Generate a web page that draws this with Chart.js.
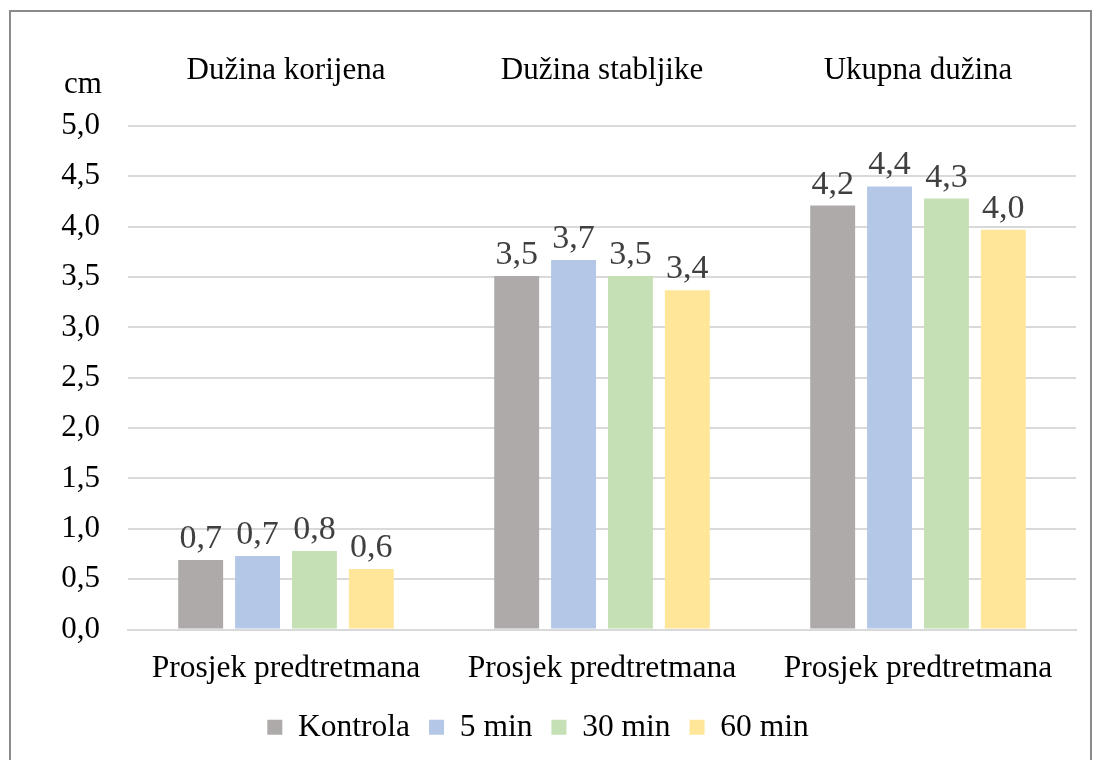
<!DOCTYPE html>
<html lang="hr">
<head>
  <meta charset="UTF-8">
  <title>Prosjek predtretmana</title>
  <script src="https://cdn.jsdelivr.net/npm/chart.js"></script>
  <style>
    html, body { margin: 0; padding: 0; background: #fff; overflow: hidden; }
    #frame { position: absolute; left: 9px; top: 10px; width: 1079px; height: 800px; border: 2px solid #8a8a8a; pointer-events: none; }
    #wrap { position: absolute; left: 0; top: 0; width: 1094px; height: 820px; }
  </style>
</head>
<body>
  <div id="wrap"><canvas id="chart" width="1094" height="820"></canvas></div>
  <div id="frame"></div>

  <script>
    const categories = ['Prosjek predtretmana', 'Prosjek predtretmana', 'Prosjek predtretmana'];
    const groupTitles = ['Dužina korijena', 'Dužina stabljike', 'Ukupna dužina'];
    const kontrola = [0.69, 3.51, 4.21];
    const min5 = [0.73, 3.67, 4.40];
    const min30 = [0.78, 3.51, 4.28];
    const min60 = [0.60, 3.37, 3.97];
    const unitLabel = 'cm';

    const serif = "'Liberation Serif', 'Times New Roman', serif";
    const fmt = v => v.toFixed(1).replace('.', ',');

    // value labels above bars
    const valueLabels = {
      id: 'valueLabels',
      afterDatasetsDraw(chart) {
        const ctx = chart.ctx;
        ctx.save();
        ctx.font = '34px ' + serif;
        ctx.fillStyle = '#404040';
        ctx.textAlign = 'center';
        ctx.textBaseline = 'alphabetic';
        chart.data.datasets.forEach((ds, i) => {
          chart.getDatasetMeta(i).data.forEach((bar, j) => {
            ctx.fillText(fmt(ds.data[j]), bar.x, bar.y - 12);
          });
        });
        ctx.restore();
      }
    };

    // group titles and unit label
    const extraText = {
      id: 'extraText',
      afterDraw(chart) {
        const ctx = chart.ctx;
        const x = chart.scales.x;
        ctx.save();
        ctx.font = '31px ' + serif;
        ctx.fillStyle = '#000';
        ctx.textAlign = 'center';
        ctx.textBaseline = 'middle';
        groupTitles.forEach((t, i) => {
          ctx.fillText(t, x.getPixelForTick(i), 71);
        });
        ctx.fillText(unitLabel, 83, 85);
        ctx.restore();
      }
    };

    new Chart(document.getElementById('chart'), {
      type: 'bar',
      data: {
        labels: categories,
        datasets: [
          { label: 'Kontrola', data: kontrola, backgroundColor: '#aeaaaa' },
          { label: '5 min', data: min5, backgroundColor: '#b4c7e7' },
          { label: '30 min', data: min30, backgroundColor: '#c5e0b4' },
          { label: '60 min', data: min60, backgroundColor: '#ffe699' }
        ]
      },
      options: {
        responsive: false,
        animation: false,
        categoryPercentage: 0.72,
        barPercentage: 0.79,
        layout: { padding: { top: 126, right: 18, bottom: 67, left: 0 } },
        plugins: {
          legend: {
            position: 'bottom',
            align: 'center',
            labels: {
              color: '#000',
              font: { family: serif, size: 31.5 },
              boxWidth: 15,
              boxHeight: 15,
              padding: 19
            }
          },
          tooltip: { enabled: false }
        },
        scales: {
          x: {
            afterFit: s => { s.height = 63; },
            grid: { display: false },
            border: { color: '#d9d9d9', width: 2 },
            ticks: { color: '#000', font: { family: serif, size: 31.5 }, padding: 12 }
          },
          y: {
            min: 0,
            max: 5,
            afterFit: s => { s.width = 128; },
            grid: { color: '#d9d9d9', lineWidth: 2, drawTicks: false },
            border: { display: false },
            ticks: {
              stepSize: 0.5,
              color: '#000',
              padding: 28,
              font: { family: serif, size: 31 },
              callback: v => fmt(v)
            }
          }
        }
      },
      plugins: [valueLabels, extraText]
    });
  </script>
</body>
</html>
